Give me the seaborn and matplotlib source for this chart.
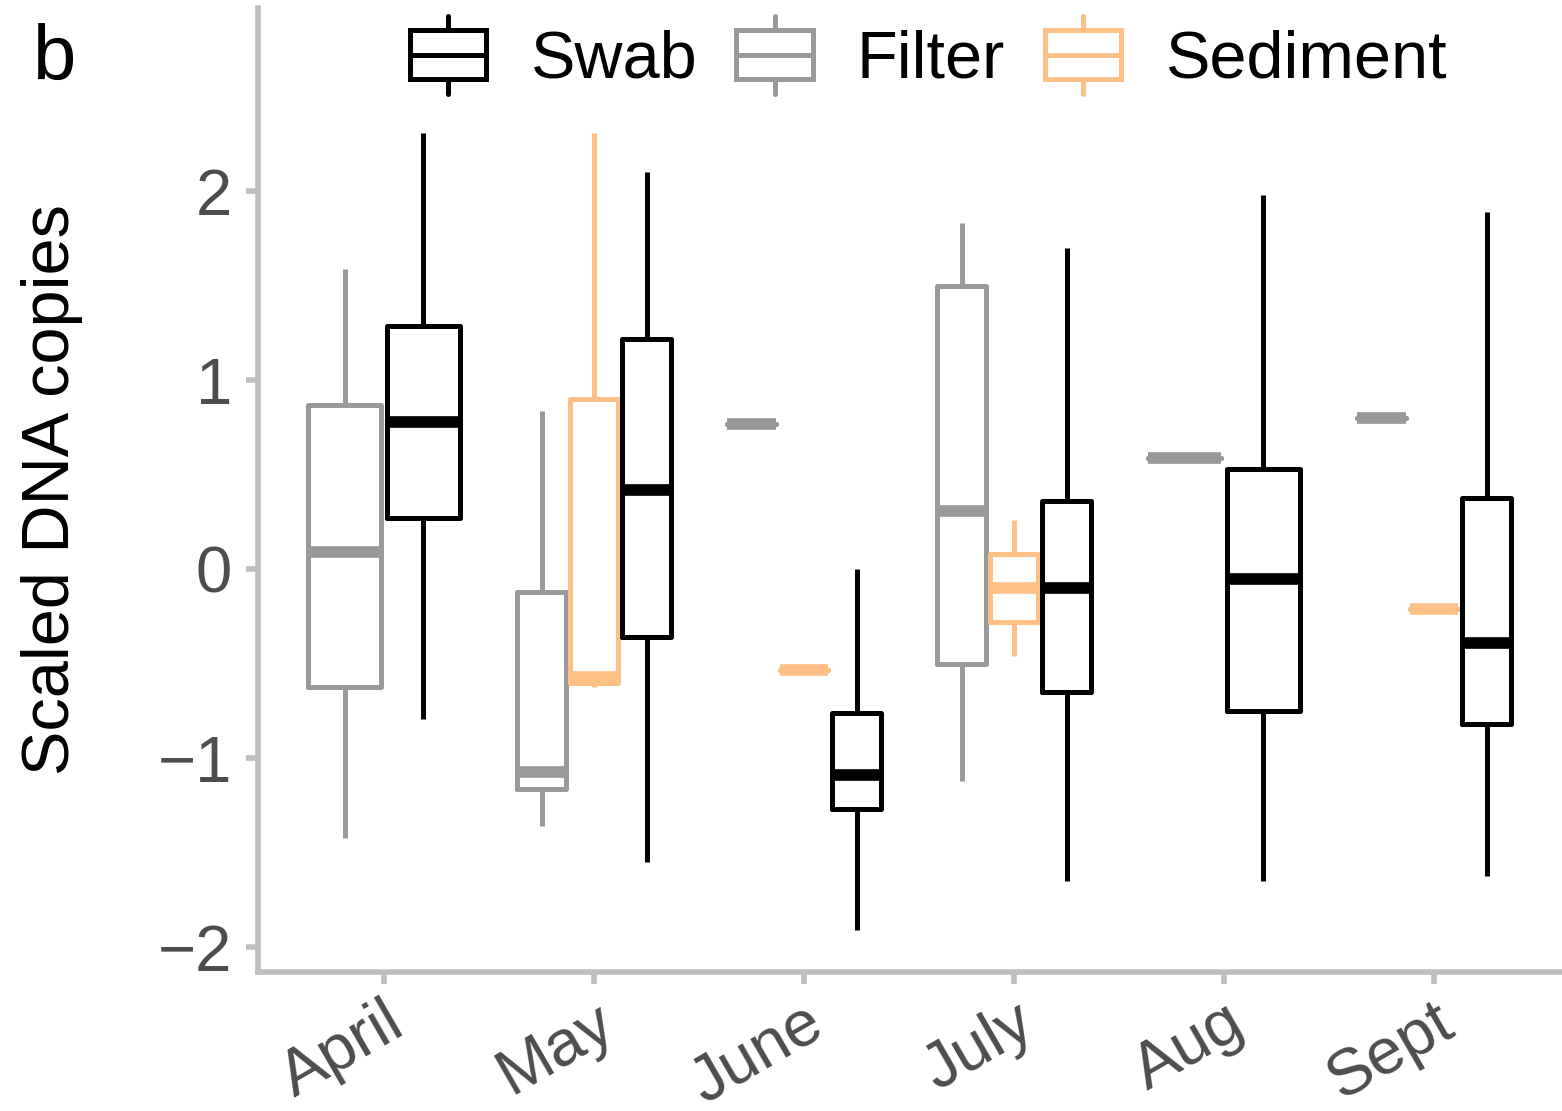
import pandas as pd
import matplotlib
matplotlib.use("Agg")
import matplotlib.pyplot as plt
import seaborn as sns
from matplotlib.patches import Patch, Rectangle
from matplotlib.lines import Line2D
from matplotlib.legend_handler import HandlerBase

# Months on the x axis
months = ["April", "May", "June", "July", "Aug", "Sept"]

# Values: whisker low, Q1, median, Q3, whisker high
# (single value where the group is only one sample)
swab = {
    "April": [-0.79, 0.27, 0.78, 1.29, 2.31],
    "May":   [-1.55, -0.36, 0.42, 1.22, 2.10],
    "June":  [-1.91, -1.27, -1.09, -0.76, 0.00],
    "July":  [-1.65, -0.65, -0.10, 0.36, 1.70],
    "Aug":   [-1.65, -0.75, -0.05, 0.53, 1.98],
    "Sept":  [-1.62, -0.82, -0.39, 0.38, 1.89],
}
filter_ = {
    "April": [-1.42, -0.62, 0.09, 0.87, 1.59],
    "May":   [-1.36, -1.16, -1.07, -0.12, 0.84],
    "June":  [0.77],
    "July":  [-1.12, -0.50, 0.31, 1.50, 1.83],
    "Aug":   [0.59],
    "Sept":  [0.80],
}
sediment = {
    "May":   [-0.62, -0.60, -0.57, 0.90, 2.31],
    "June":  [-0.53],
    "July":  [-0.46, -0.28, -0.10, 0.08, 0.26],
    "Sept":  [-0.21],
}

legend_order = ["Swab", "Filter", "Sediment"]
dodge_order = ["Filter", "Sediment", "Swab"]   # ggplot dodges alphabetically
palette = {"Swab": "#000000", "Filter": "#999999", "Sediment": "#FDC086"}

rows = []
for sample, d in [("Swab", swab), ("Filter", filter_), ("Sediment", sediment)]:
    for m, vals in d.items():
        rows += [(m, sample, v) for v in vals]
df = pd.DataFrame(rows, columns=["month", "sample", "value"])

sns.set_theme(style="ticks")
plt.rcParams["font.family"] = ["Liberation Sans", "DejaVu Sans"]

fig = plt.figure(figsize=(15.62, 11.11), dpi=100)
ax = fig.add_axes([258 / 1562, 1 - 972 / 1111, 1302 / 1562, 964 / 1111])

# draw month by month so that only the sample types present get dodged (like ggplot)
for m in months:
    sub = df[df["month"] == m]
    present = [s for s in dodge_order if s in set(sub["sample"])]
    sns.boxplot(
        data=sub, x="month", y="value", hue="sample",
        order=months, hue_order=present, palette=palette,
        fill=False, dodge=True, width=0.75, gap=0.067,
        linewidth=3.6, showcaps=False, whis=1.5,
        medianprops={"linewidth": 8.4, "solid_capstyle": "butt"},
        legend=False, ax=ax,
    )


class BoxKey(HandlerBase):
    """ggplot-like boxplot legend key."""
    def create_artists(self, legend, orig_handle, xdescent, ydescent,
                       width, height, fontsize, trans):
        c = orig_handle.get_edgecolor()
        x0, y0 = -xdescent, -ydescent
        xm, ym = x0 + width / 2, y0 + height / 2
        ext = height * 0.3
        box = Rectangle((x0, y0), width, height, facecolor="none",
                        edgecolor=c, linewidth=3.6, transform=trans)
        mid = Line2D([x0, x0 + width], [ym, ym], color=c, lw=3.6, transform=trans)
        up = Line2D([xm, xm], [y0 + height, y0 + height + ext], color=c, lw=3.6,
                    transform=trans)
        down = Line2D([xm, xm], [y0, y0 - ext], color=c, lw=3.6, transform=trans)
        return [box, mid, up, down]


handles = [Patch(facecolor="none", edgecolor=palette[s], label=s) for s in legend_order]
fig.legend(handles=handles, labels=legend_order, handler_map={Patch: BoxKey()},
           loc="upper center", bbox_to_anchor=(928 / 1562, 1 + 30 / 1111),
           ncol=3, frameon=False, fontsize=48, handlelength=1.15,
           handleheight=0.75, handletextpad=0.65, columnspacing=0.6,
           labelcolor="black")

ax.set_xlim(-0.6, 5.6)
ax.set_ylim(-2.13, 2.97)
ax.set_yticks([-2, -1, 0, 1, 2])
ax.set_xlabel("")
ax.set_ylabel("Scaled DNA copies", fontsize=48, color="black", labelpad=54)

for side in ["top", "right"]:
    ax.spines[side].set_visible(False)
for side in ["left", "bottom"]:
    ax.spines[side].set_color("#BEBEBE")
    ax.spines[side].set_linewidth(4)

ax.tick_params(axis="both", colors="#BEBEBE", labelcolor="#4D4D4D",
               labelsize=47, width=4, length=8.6, pad=10)
ax.tick_params(axis="x", pad=6)

for lbl in ax.get_xticklabels():
    lbl.set_rotation(30)
    lbl.set_ha("right")
    lbl.set_va("top")
    lbl.set_rotation_mode("anchor")

fig.text(33 / 1562, 1 - 80 / 1111, "b", fontsize=56, va="baseline", ha="left",
         color="black")

fig.savefig("out.png", dpi=100)
